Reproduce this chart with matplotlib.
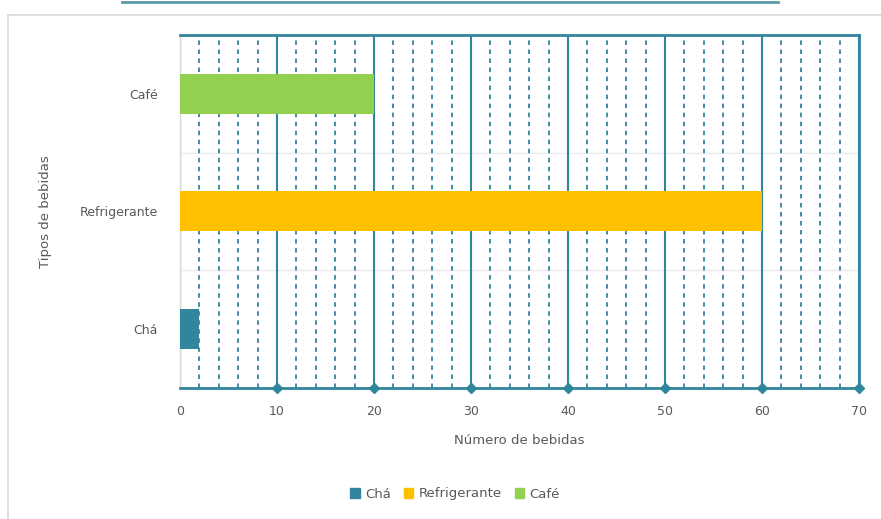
import matplotlib.pyplot as plt
import numpy as np
from matplotlib.patches import Rectangle
from matplotlib.lines import Line2D

categorias = ["Chá", "Refrigerante", "Café"]
valores = [2, 60, 20]
cores = ["#31859C", "#FFC000", "#92D050"]
ticks_x = [0, 10, 20, 30, 40, 50, 60, 70]

TEAL = "#31859C"
CINZA = "#595959"

fig = plt.figure(figsize=(8.81, 5.19), dpi=100)
ax = fig.add_axes([0.2043, 0.2524, 0.7707, 0.6802])

# moldura externa e linha do título
fig.patches.append(Rectangle((8 / 881, -0.05), 1.1, 1 - 15 / 519 + 0.05,
                             transform=fig.transFigure, fill=False,
                             edgecolor="#d9d9d9", linewidth=1.2))
fig.lines.append(Line2D([122 / 881, 778 / 881], [1 - 2 / 519] * 2,
                        transform=fig.transFigure, color="#5b9aa6", linewidth=2))

y = np.arange(len(categorias))
ax.barh(y, valores, height=0.34, color=cores, zorder=3)

ax.set_xlim(0, 70)
ax.set_ylim(-0.5, 2.5)
ax.set_xticks(ticks_x)
ax.set_xticks(np.arange(0, 71, 2), minor=True)
ax.set_yticks(y)
ax.set_yticklabels(categorias)

# grelha
ax.grid(which="major", axis="x", color=TEAL, linewidth=1.5, zorder=1)
ax.grid(which="minor", axis="x", color=TEAL, linewidth=1.3,
        linestyle=(0, (2.5, 2.5)), zorder=1)
for yy in [0.5, 1.5]:
    ax.axhline(yy, color="#ececec", linewidth=1, zorder=0.5)

ax.spines["left"].set_color("#d9d9d9")
ax.spines["left"].set_linewidth(1)
for s in ["top", "right", "bottom"]:
    ax.spines[s].set_color(TEAL)
    ax.spines[s].set_linewidth(2)

# marcadores no eixo x
ax.plot(ticks_x[1:], [-0.5] * (len(ticks_x) - 1), linestyle="none", marker="D",
        markersize=5, color=TEAL, clip_on=False, zorder=5)

ax.tick_params(axis="both", which="both", length=0, colors=CINZA, labelsize=9)
ax.tick_params(axis="x", pad=12)
ax.tick_params(axis="y", pad=16)

ax.set_xlabel("Número de bebidas", color=CINZA, fontsize=9.5, labelpad=12)
ax.set_ylabel("Tipos de bebidas", color=CINZA, fontsize=9.5, labelpad=20)

handles = [Rectangle((0, 0), 1, 1, color=c) for c in cores]
fig.legend(handles, categorias, loc="center", bbox_to_anchor=(455 / 881, 1 - 494 / 519),
           ncol=3, frameon=False, fontsize=9.5, labelcolor=CINZA,
           handlelength=0.7, handleheight=0.7, handletextpad=0.4, columnspacing=1.0)

fig.savefig("out.png", dpi=100)
